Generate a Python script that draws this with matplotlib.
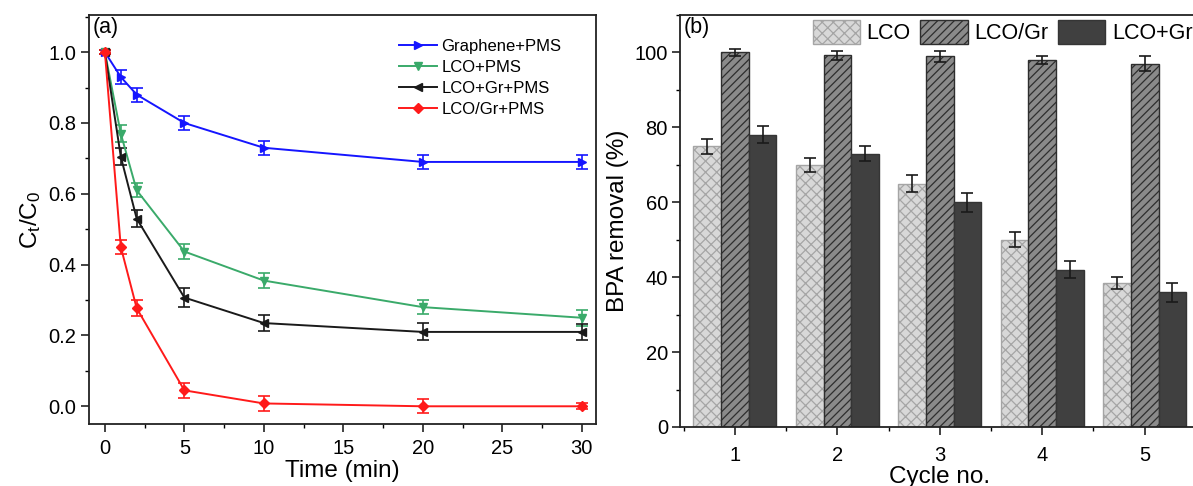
import numpy as np
import matplotlib
matplotlib.use('Agg')
import matplotlib.pyplot as plt
from matplotlib.ticker import MultipleLocator

plt.rcParams['font.family'] = ['Liberation Sans', 'DejaVu Sans']
plt.rcParams['mathtext.fontset'] = 'custom'
plt.rcParams['mathtext.rm'] = 'Liberation Sans'
plt.rcParams['mathtext.it'] = 'Liberation Sans'
plt.rcParams['hatch.linewidth'] = 0.9

# (a) kinetics data
time = [0, 1, 2, 5, 10, 20, 30]
graphene_pms = [1.0, 0.93, 0.88, 0.80, 0.73, 0.69, 0.69]
graphene_err = [0.005, 0.02, 0.02, 0.02, 0.02, 0.02, 0.02]
lco_pms = [1.0, 0.77, 0.61, 0.437, 0.355, 0.28, 0.25]
lco_pms_err = [0.005, 0.025, 0.02, 0.02, 0.02, 0.02, 0.022]
lco_gr_pms = [1.0, 0.705, 0.53, 0.307, 0.235, 0.21, 0.21]
lco_gr_pms_err = [0.005, 0.025, 0.025, 0.027, 0.022, 0.024, 0.022]
lcogr_pms = [1.0, 0.45, 0.277, 0.045, 0.008, 0.0, 0.0]
lcogr_pms_err = [0.005, 0.02, 0.022, 0.022, 0.02, 0.02, 0.008]

# (b) recycling data
cycles = [1, 2, 3, 4, 5]
lco = [75, 70, 65, 50, 38.5]
lco_err = [2.0, 1.8, 2.2, 2.0, 1.6]
lcogr = [100, 99.2, 99, 98, 97]
lcogr_err = [1.0, 1.3, 1.5, 1.0, 2.0]
lco_plus_gr = [78, 73, 60, 42, 36]
lco_plus_gr_err = [2.3, 2.0, 2.5, 2.3, 2.5]

fig = plt.figure(figsize=(11.93, 4.86), dpi=100)
ax1 = fig.add_axes([0.0746, 0.1276, 0.425, 0.8416])
ax2 = fig.add_axes([0.5704, 0.1214, 0.4346, 0.8477])

series = [
    (graphene_pms, graphene_err, '#1515ff', '>', 'Graphene+PMS'),
    (lco_pms, lco_pms_err, '#3aaa6a', 'v', 'LCO+PMS'),
    (lco_gr_pms, lco_gr_pms_err, '#1a1a1a', '<', 'LCO+Gr+PMS'),
    (lcogr_pms, lcogr_pms_err, '#ff1a1a', 'D', 'LCO/Gr+PMS'),
]
handles = []
for vals, err, col, mk, lab in series:
    c = ax1.errorbar(time, vals, yerr=err, color=col, marker=mk,
                     markersize=6 if mk != 'D' else 5, linewidth=1.4,
                     capsize=4, elinewidth=1.2, capthick=1.2, label=lab)
    handles.append(c[0])

ax1.set_xlim(-1, 30.9)
ax1.set_ylim(-0.05, 1.105)
ax1.xaxis.set_major_locator(MultipleLocator(5))
ax1.xaxis.set_minor_locator(MultipleLocator(2.5))
ax1.yaxis.set_major_locator(MultipleLocator(0.2))
ax1.yaxis.set_minor_locator(MultipleLocator(0.1))
ax1.yaxis.set_major_formatter(matplotlib.ticker.FormatStrFormatter('%.1f'))
ax1.set_xlabel('Time (min)', fontsize=17.5, labelpad=2)
ax1.set_ylabel(r'C$_t$/C$_0$', fontsize=17.5, labelpad=4)
ax1.text(0.008, 0.995, '(a)', transform=ax1.transAxes, fontsize=15.5,
         va='top', ha='left')
ax1.legend(handles, [s[4] for s in series], loc='upper right',
           bbox_to_anchor=(0.945, 0.958), frameon=False,
           fontsize=12, handlelength=2.3, handletextpad=0.25,
           labelspacing=0.36, borderaxespad=0)

# bars
x = np.array(cycles, dtype=float)
w = 0.27
ax2.bar(x - w, lco, w, color='#d8d8d8', edgecolor='#a5a5a5', hatch='xxx',
        linewidth=1.0, label='LCO', zorder=2)
ax2.bar(x, lcogr, w, color='#8a8a8a', edgecolor='#2e2e2e', hatch='////',
        linewidth=1.0, label='LCO/Gr', zorder=2)
ax2.bar(x + w, lco_plus_gr, w, color='#404040', edgecolor='#353535',
        linewidth=1.0, label='LCO+Gr', zorder=2)
for off, vals, err in [(-w, lco, lco_err), (0, lcogr, lcogr_err),
                       (w, lco_plus_gr, lco_plus_gr_err)]:
    ax2.errorbar(x + off, vals, yerr=err, fmt='none', ecolor='#1a1a1a',
                 elinewidth=1.2, capsize=4, capthick=1.2, zorder=3)

ax2.set_xlim(0.468, 5.53)
ax2.set_ylim(0, 110)
ax2.set_xticks(cycles)
ax2.xaxis.set_minor_locator(MultipleLocator(0.5))
ax2.yaxis.set_major_locator(MultipleLocator(20))
ax2.yaxis.set_minor_locator(MultipleLocator(10))
ax2.set_xlabel('Cycle no.', fontsize=17.5, labelpad=1)
ax2.set_ylabel('BPA removal (%)', fontsize=17.5, labelpad=4)
ax2.text(0.006, 0.995, '(b)', transform=ax2.transAxes, fontsize=15.5,
         va='top', ha='left')
ax2.legend(loc='upper right', bbox_to_anchor=(1.004, 1.01), ncol=3,
           frameon=False, fontsize=15.5, handlelength=2.2, handleheight=1.35,
           handletextpad=0.3, columnspacing=0.45, borderaxespad=0)

for ax in (ax1, ax2):
    for s in ax.spines.values():
        s.set_linewidth(1.3)
        s.set_color('#222222')
    ax.tick_params(which='major', direction='out', length=5.5, width=1.2,
                   labelsize=14.5, colors='#222222')
    ax.tick_params(which='minor', direction='out', length=3, width=1.0)
    ax.tick_params(labelcolor='black')
ax1.tick_params(axis='x', which='major', pad=5)
ax2.tick_params(axis='x', which='major', pad=8)

fig.savefig('out.png', dpi=100)
